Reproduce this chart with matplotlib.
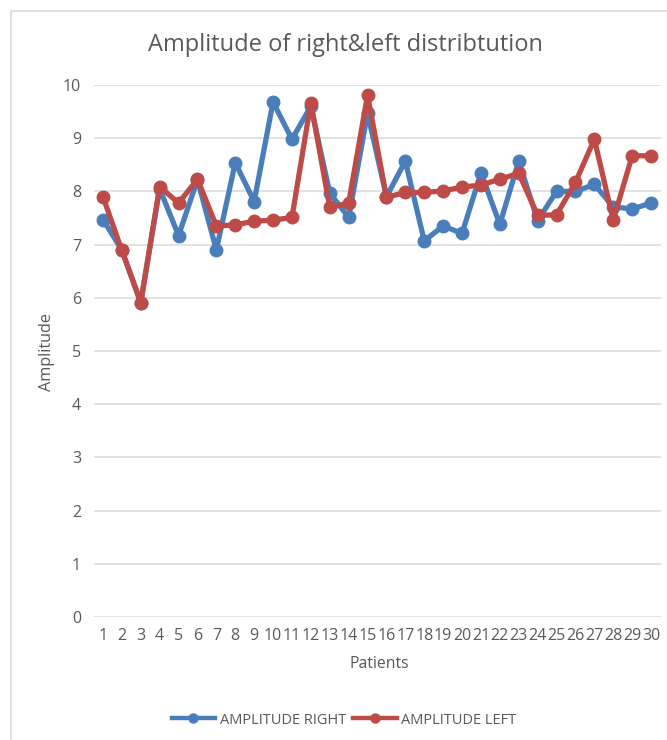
import matplotlib
matplotlib.use('Agg')
import matplotlib.pyplot as plt
from matplotlib.lines import Line2D
from matplotlib.patches import Rectangle

#============================================================
# data
#============================================================
patients = list(range(1, 31))
amp_right = [7.47, 6.90, 5.91, 8.05, 7.17, 8.22, 6.90, 8.54, 7.81, 9.68,
             8.98, 9.60, 7.97, 7.51, 9.47, 7.90, 8.57, 7.07, 7.35, 7.21,
             8.35, 7.38, 8.57, 7.45, 8.00, 8.00, 8.13, 7.71, 7.67, 7.78]
amp_left = [7.90, 6.89, 5.91, 8.09, 7.78, 8.23, 7.35, 7.37, 7.44, 7.46,
            7.51, 9.67, 7.70, 7.78, 9.81, 7.89, 7.98, 7.98, 8.01, 8.08,
            8.12, 8.23, 8.34, 7.55, 7.56, 8.17, 8.98, 7.46, 8.67, 8.67]
y_ticks = list(range(0, 11))

BLUE = '#4a7ebb'
RED = '#be4b48'
TXT = '#595959'
GRID = '#d9d9d9'

plt.rcParams['font.family'] = ['Open Sans', 'DejaVu Sans']

W, H = 667, 740
fig = plt.figure(figsize=(W / 100, H / 100), dpi=100)
ax = fig.add_axes([93.5 / W, 1 - 617 / H, (660.5 - 93.5) / W, (617 - 85) / H])

# chart frame (cut off on the right and bottom like the screenshot)
fig.patches.append(Rectangle((11 / W, -0.1), 1.0, 1 - 11 / H + 0.1,
                             transform=fig.transFigure, fill=False,
                             edgecolor=GRID, lw=1.2))

ax.plot(patients, amp_right, color=BLUE, lw=3.8, marker='o', ms=9,
        solid_capstyle='round', zorder=3)
ax.plot(patients, amp_left, color=RED, lw=3.8, marker='o', ms=9,
        solid_capstyle='round', zorder=4)

ax.set_xlim(0.5, 30.5)
ax.set_ylim(0, 10)
ax.set_yticks(y_ticks)
ax.set_xticks(patients)
ax.set_xticklabels([str(p) for p in patients])
ax.grid(True, axis='y', color=GRID, lw=1.1)
ax.set_axisbelow(True)
for s in ax.spines.values():
    s.set_visible(False)
ax.tick_params(axis='both', length=0, labelsize=11.5, colors=TXT)
ax.tick_params(axis='y', pad=9)
ax.tick_params(axis='x', pad=8)
for lbl in ax.get_xticklabels():
    lbl.set_clip_on(False)

fig.text(345 / W, 1 - 45 / H, 'Amplitude of right&left distribtution',
         ha='center', va='center', fontsize=17, color=TXT)
fig.text(47 / W, 1 - 352 / H, 'Amplitude', rotation=90, ha='center',
         va='center', fontsize=11.7, color=TXT)
fig.text(379 / W, 1 - 664 / H, 'Patients', ha='center', va='center',
         fontsize=11.3, color=TXT)

handles = [Line2D([], [], color=BLUE, lw=3.2, marker='o', ms=6.5),
           Line2D([], [], color=RED, lw=3.2, marker='o', ms=6.5)]
leg = fig.legend(handles, ['AMPLITUDE RIGHT', 'AMPLITUDE LEFT'],
                 loc='center', bbox_to_anchor=(344 / W, 1 - 720 / H),
                 ncol=2, frameon=False, fontsize=10.5, handlelength=3.0,
                 handletextpad=0.3, columnspacing=0.5)
for t in leg.get_texts():
    t.set_color(TXT)

fig.savefig('out.png', dpi=100)
